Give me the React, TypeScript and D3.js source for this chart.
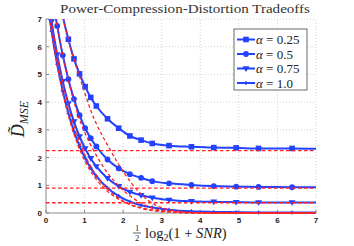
import * as d3 from 'd3'

const WIDTH = 354
const HEIGHT = 246
const MARGIN = { left: 46, right: 38, top: 19, bottom: 33 }

const BLUE = '#2342ff'
const RED = '#ff2222'

// x grid: 1/2 log2(1 + SNR)
const SNR_X = [0, 0.145, 0.29, 0.435, 0.58, 0.725, 0.87, 1.015, 1.16, 1.305, 1.595, 1.885, 2.175, 2.465, 2.755, 3.19, 3.77, 4.35, 4.93, 5.51, 6.38, 7]

// achieved distortion
const D_A025 = [11.1, 9.5, 8.2, 7.1, 6.27, 5.56, 5.02, 4.56, 4.17, 3.86, 3.4, 3.06, 2.78, 2.63, 2.51, 2.43, 2.39, 2.36, 2.35, 2.33, 2.33, 2.32]
const D_A050 = [9.63, 8.05, 6.75, 5.69, 4.83, 4.11, 3.53, 3.06, 2.7, 2.4, 1.93, 1.61, 1.4, 1.27, 1.15, 1.07, 1.01, 0.97, 0.95, 0.94, 0.93, 0.93]
const D_A075 = [8.37, 6.91, 5.72, 4.75, 3.95, 3.3, 2.76, 2.33, 1.97, 1.68, 1.25, 0.96, 0.76, 0.64, 0.55, 0.47, 0.42, 0.4, 0.39, 0.38, 0.38, 0.38]
const D_A100 = [8.02, 6.56, 5.37, 4.4, 3.6, 2.95, 2.41, 1.98, 1.62, 1.33, 0.9, 0.61, 0.41, 0.28, 0.2, 0.12, 0.06, 0.04, 0.03, 0.02, 0.02, 0.02]

// red dashed bounds
const B_A025 = [11.1, 9.5, 8.2, 7.1, 6.27, 5.54, 4.92, 4.3, 3.7, 3.22, 2.45, 1.75, 1.15, 0.68, 0.35, 0.12, 0.02, 0, 0, 0, 0, 0]
const B_A050 = [9.63, 8.05, 6.75, 5.69, 4.8, 4.02, 3.38, 2.88, 2.45, 2.08, 1.45, 0.98, 0.62, 0.36, 0.18, 0.06, 0.01, 0, 0, 0, 0, 0]
const B_A075 = [8.37, 6.91, 5.7, 4.7, 3.85, 3.14, 2.56, 2.08, 1.68, 1.35, 0.86, 0.53, 0.31, 0.17, 0.09, 0.03, 0, 0, 0, 0, 0, 0]
const B_A100 = [8.0, 6.52, 5.32, 4.33, 3.52, 2.85, 2.3, 1.86, 1.5, 1.21, 0.78, 0.5, 0.31, 0.19, 0.11, 0.05, 0.01, 0, 0, 0, 0, 0]

const FLOOR_LEVELS = [2.25, 0.9, 0.37]

const X_TICKS = [0, 1, 2, 3, 4, 5, 6, 7]
const Y_TICKS = [0, 1, 2, 3, 4, 5, 6, 7]

const ALPHA_LABELS = ['0.25', '0.5', '0.75', '1.0']
const MARKERS = ['square', 'circle', 'triangle', 'plus']
const SERIES = [D_A025, D_A050, D_A075, D_A100]
const BOUNDS = [B_A025, B_A050, B_A075, B_A100]

const x = d3.scaleLinear([0, 7], [MARGIN.left, WIDTH - MARGIN.right])
const y = d3.scaleLinear([0, 7], [HEIGHT - MARGIN.bottom, MARGIN.top])

const line = d3
  .line<number>()
  .x((_, i) => x(SNR_X[i]))
  .y((d) => y(d))
  .curve(d3.curveMonotoneX)

function Marker({ kind, cx, cy }: { kind: string; cx: number; cy: number }) {
  if (kind === 'square') return <rect x={cx - 2.8} y={cy - 2.8} width={5.6} height={5.6} fill={BLUE} />
  if (kind === 'circle') return <circle cx={cx} cy={cy} r={2.9} fill={BLUE} />
  if (kind === 'triangle')
    return <path d={`M${cx - 3.5},${cy - 2.3}L${cx + 3.5},${cy - 2.3}L${cx},${cy + 3.4}Z`} fill={BLUE} />
  return (
    <path d={`M${cx - 2},${cy}L${cx + 2},${cy}M${cx},${cy - 2}L${cx},${cy + 2}`} stroke={BLUE} strokeWidth={1.2} />
  )
}

export default function App() {
  const [x0, x1] = x.range()
  const [y0, y1] = y.range()
  const legX = 234
  const legY = 29
  const serif = "'Liberation Serif', 'DejaVu Serif', serif"
  const sans = "'Liberation Sans', Arial, sans-serif"

  return (
    <svg
      width={WIDTH}
      height={HEIGHT}
      style={{ position: 'absolute', left: 0, top: 0, background: '#fff' }}
    >
      <defs>
        <clipPath id="plot">
          <rect x={x0} y={y1} width={x1 - x0} height={y0 - y1 + 3} />
        </clipPath>
      </defs>

      {/* grid */}
      <g stroke="#c8c8c8" strokeWidth={0.8} strokeDasharray="1,2">
        {X_TICKS.slice(1).map((t) => (
          <line key={'gx' + t} x1={x(t)} x2={x(t)} y1={y0} y2={y1} />
        ))}
        {Y_TICKS.slice(1).map((t) => (
          <line key={'gy' + t} x1={x0} x2={x1} y1={y(t)} y2={y(t)} />
        ))}
      </g>

      {/* axes */}
      <g stroke="#8a8a8a" strokeWidth={1}>
        <line x1={x0} x2={x1} y1={y0} y2={y0} />
        <line x1={x0} x2={x0} y1={y0} y2={y1} />
        {X_TICKS.map((t) => (
          <line key={'tx' + t} x1={x(t)} x2={x(t)} y1={y0} y2={y0 - 3} />
        ))}
        {Y_TICKS.map((t) => (
          <line key={'ty' + t} x1={x0} x2={x0 + 3} y1={y(t)} y2={y(t)} />
        ))}
      </g>
      <g fontFamily={sans} fontWeight="bold" fontSize={8} fill="#222">
        {X_TICKS.map((t) => (
          <text key={'lx' + t} x={x(t)} y={y0 + 9.5} textAnchor="middle">
            {t}
          </text>
        ))}
        {Y_TICKS.map((t) => (
          <text key={'ly' + t} x={x0 - 4} y={y(t) + 3} textAnchor="end">
            {t}
          </text>
        ))}
      </g>

      <g clipPath="url(#plot)">
        {/* blue curves */}
        {SERIES.map((s, k) => (
          <g key={'s' + k}>
            <path d={line(s) ?? ''} fill="none" stroke={BLUE} strokeWidth={2} />
            {s.slice(1, -1).map((v, i) => (
              <Marker key={i} kind={MARKERS[k]} cx={x(SNR_X[i + 1])} cy={y(v)} />
            ))}
          </g>
        ))}
        {/* red bounds */}
        {BOUNDS.map((b, k) => (
          <path
            key={'b' + k}
            d={line(b) ?? ''}
            fill="none"
            stroke={RED}
            strokeWidth={1.3}
            strokeDasharray="3.5,2.5"
            strokeDashoffset={k * 1.5}
          />
        ))}
        {FLOOR_LEVELS.map((v) => (
          <line
            key={'f' + v}
            x1={x0}
            x2={x1}
            y1={y(v)}
            y2={y(v)}
            stroke={RED}
            strokeWidth={1.3}
            strokeDasharray="3.5,2.5"
          />
        ))}
      </g>

      {/* title */}
      <text
        x={185}
        y={13}
        textAnchor="middle"
        fontFamily={serif}
        fontSize={12.5}
        fill="#333"
        textLength={250}
        lengthAdjust="spacingAndGlyphs"
      >
        Power-Compression-Distortion Tradeoffs
      </text>

      {/* y label */}
      <text
        transform={`translate(24,${(y0 + y1) / 2 + 3}) rotate(-90)`}
        textAnchor="middle"
        fontFamily={serif}
        fontSize={18}
        fill="#222"
      >
        <tspan fontStyle="italic">{'D\u0303'}</tspan>
        <tspan fontStyle="italic" fontSize={12} dy={4}>
          MSE
        </tspan>
      </text>

      {/* x label */}
      <g fontFamily={serif} fill="#222">
        <text x={137} y={231} fontSize={8.5} textAnchor="middle">
          1
        </text>
        <line x1={133} x2={141} y1={233} y2={233} stroke="#222" strokeWidth={0.7} />
        <text x={137} y={241} fontSize={8.5} textAnchor="middle">
          2
        </text>
        <text x={145} y={238} fontSize={14.5}>
          log
          <tspan fontSize={10} dy={3}>
            2
          </tspan>
          <tspan dy={-3}>(1 + </tspan>
          <tspan fontStyle="italic">SNR</tspan>)
        </text>
      </g>

      {/* legend */}
      <rect x={legX} y={legY} width={73} height={61} fill="#fff" stroke="#444" strokeWidth={0.8} />
      {ALPHA_LABELS.map((a, k) => {
        const ly = legY + 10.5 + k * 14.5
        return (
          <g key={'leg' + k}>
            <line x1={legX + 3} x2={legX + 21} y1={ly} y2={ly} stroke={BLUE} strokeWidth={2} />
            <Marker kind={MARKERS[k]} cx={legX + 12} cy={ly} />
            <text x={legX + 22} y={ly + 4.5} fontFamily={serif} fontSize={13} fill="#222">
              <tspan fontStyle="italic">α</tspan> = {a}
            </text>
          </g>
        )
      })}
    </svg>
  )
}
